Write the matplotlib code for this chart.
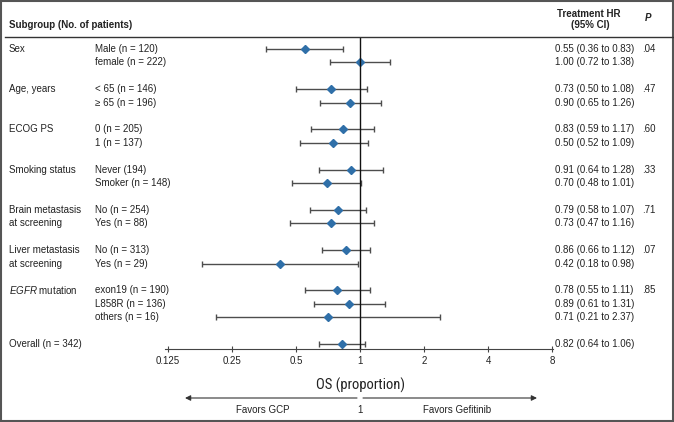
import matplotlib

matplotlib.use("Agg")
import matplotlib.pyplot as plt
import matplotlib.transforms as mtransforms
from matplotlib import font_manager
import numpy as np

plt.rcParams["font.family"] = ["Liberation Sans", "DejaVu Sans"]
plt.rcParams["mathtext.fontset"] = "custom"
plt.rcParams["mathtext.it"] = "Liberation Sans:italic"
plt.rcParams["mathtext.rm"] = "Liberation Sans"

# ---- data ----
groups = [
    "Sex",
    "Age, years",
    "ECOG PS",
    "Smoking status",
    "Brain metastasis\nat screening",
    "Liver metastasis\nat screening",
    r"$\mathit{EGFR}$ mutation",
    "Overall (n = 342)",
]
subgroups = [
    ["Male (n = 120)", "female (n = 222)"],
    ["< 65 (n = 146)", "\u2265 65 (n = 196)"],
    ["0 (n = 205)", "1 (n = 137)"],
    ["Never (194)", "Smoker (n = 148)"],
    ["No (n = 254)", "Yes (n = 88)"],
    ["No (n = 313)", "Yes (n = 29)"],
    ["exon19 (n = 190)", "L858R (n = 136)", "others (n = 16)"],
    [""],
]
hr = [0.55, 1.00, 0.73, 0.90, 0.83, 0.75, 0.91, 0.70, 0.79, 0.73,
      0.86, 0.42, 0.78, 0.89, 0.71, 0.82]
ci_low = [0.36, 0.72, 0.50, 0.65, 0.59, 0.52, 0.64, 0.48, 0.58, 0.47,
          0.66, 0.18, 0.55, 0.61, 0.21, 0.64]
ci_high = [0.83, 1.38, 1.08, 1.26, 1.17, 1.09, 1.28, 1.01, 1.07, 1.16,
           1.12, 0.98, 1.11, 1.31, 2.37, 1.06]
hr_text = [
    "0.55 (0.36 to 0.83)", "1.00 (0.72 to 1.38)",
    "0.73 (0.50 to 1.08)", "0.90 (0.65 to 1.26)",
    "0.83 (0.59 to 1.17)", "0.50 (0.52 to 1.09)",
    "0.91 (0.64 to 1.28)", "0.70 (0.48 to 1.01)",
    "0.79 (0.58 to 1.07)", "0.73 (0.47 to 1.16)",
    "0.86 (0.66 to 1.12)", "0.42 (0.18 to 0.98)",
    "0.78 (0.55 to 1.11)", "0.89 (0.61 to 1.31)", "0.71 (0.21 to 2.37)",
    "0.82 (0.64 to 1.06)",
]
p_values = [".04", ".47", ".60", ".33", ".71", ".07", ".85", ""]
ticks = [0.125, 0.25, 0.5, 1, 2, 4, 8]
tick_labels = ["0.125", "0.25", "0.5", "1", "2", "4", "8"]

# ---- layout ----
W, H = 674, 422
TEXT = "#222222"
GRAY = "#4d4d4d"
BLUE = "#2f6fa8"


def fx(px):
    return px / W


def fy(py):
    return 1 - py / H


# condensed face for the axis title if one is around, else plain at a smaller size
installed = {f.name for f in font_manager.fontManager.ttflist}
label_font, label_size = "Liberation Sans", 9.2
for name in ["Roboto Condensed", "DejaVu Sans Condensed", "Liberation Sans Narrow",
             "Open Sans Condensed"]:
    if name in installed:
        label_font, label_size = name, 10.5
        break

fig = plt.figure(figsize=(W / 100, H / 100), dpi=100)
ax = fig.add_axes([fx(165), fy(349), fx(553) - fx(165), fy(37) - fy(349)])
ax.set_xscale("log", base=2)
ax.set_xlim(2 ** (-3 - 3 / 64), 2 ** (3 + 1 / 64))
ax.set_ylim(22.37, -0.895)

# row positions
rows = []
group_rows = []
r = 0
for subs in subgroups:
    group_rows.append(r)
    rows.extend(range(r, r + len(subs)))
    r += len(subs) + 1
rows = np.array(rows, dtype=float)
hr_a = np.array(hr)
err = [hr_a - np.array(ci_low), np.array(ci_high) - hr_a]

ax.errorbar(hr_a, rows, xerr=err, fmt="none", ecolor=GRAY, elinewidth=1,
            capsize=2, capthick=1)
ax.plot(hr_a, rows, "D", color=BLUE, ms=3.6, mec=BLUE)
ax.axvline(1, color="#111111", lw=1)

for side in ["left", "right", "top"]:
    ax.spines[side].set_visible(False)
ax.spines["bottom"].set_color("#444444")
ax.set_yticks([])
ax.set_xticks(ticks, tick_labels)
ax.minorticks_off()
ax.tick_params(axis="x", direction="inout", length=4, width=0.8,
               color="#444444", labelsize=7, labelcolor=TEXT, pad=3)

# text columns
tr = mtransforms.blended_transform_factory(fig.transFigure, ax.transData)
kw = dict(transform=tr, fontsize=7, color=TEXT, va="center", clip_on=False)
i = 0
for g, subs, gr, p in zip(groups, subgroups, group_rows, p_values):
    for k, line in enumerate(g.split("\n")):
        ax.text(fx(9), gr + k, line, **kw)
    for k, s in enumerate(subs):
        ax.text(fx(95), gr + k, s, **kw)
        ax.text(fx(555), gr + k, hr_text[i], **kw)
        i += 1
    ax.text(fx(642), gr, p, **kw)

# header
fig.text(fx(9), fy(25), "Subgroup (No. of patients)", fontsize=7,
         fontweight="bold", color=TEXT, va="center")
fig.text(fx(589), fy(14), "Treatment HR", fontsize=7, fontweight="bold",
         color=TEXT, va="center", ha="center")
fig.text(fx(590), fy(25), "(95% CI)", fontsize=7, fontweight="bold",
         color=TEXT, va="center", ha="center")
fig.text(fx(648), fy(18), "P", fontsize=7, fontweight="bold", style="italic",
         color=TEXT, va="center", ha="center")
fig.add_artist(plt.Line2D([fx(5), fx(673)], [fy(37), fy(37)],
                          transform=fig.transFigure, color="#333333", lw=1))

# axis label and direction arrows
fig.text(fx(360), fy(385), "OS (proportion)", fontsize=label_size,
         family=[label_font, "DejaVu Sans"], color=TEXT,
         va="center", ha="center")
arrow = dict(arrowstyle="-|>", color="#333333", lw=0.8, mutation_scale=8,
             shrinkA=0, shrinkB=0)
fig.add_artist(plt.Annotation("", xy=(fx(185), fy(398)), xytext=(fx(357), fy(398)),
                              xycoords="figure fraction", arrowprops=arrow))
fig.add_artist(plt.Annotation("", xy=(fx(537), fy(398)), xytext=(fx(363), fy(398)),
                              xycoords="figure fraction", arrowprops=arrow))
fig.text(fx(263), fy(410), "Favors GCP", fontsize=7, color=TEXT,
         va="center", ha="center")
fig.text(fx(360), fy(410), "1", fontsize=7, color=TEXT, va="center", ha="center")
fig.text(fx(457), fy(410), "Favors Gefitinib", fontsize=7, color=TEXT,
         va="center", ha="center")

# outer frame
fig.add_artist(plt.Rectangle((0.0015, 0.002), 0.997, 0.996, fill=False,
                             edgecolor="#555555", lw=1.5,
                             transform=fig.transFigure))

fig.savefig("out.png", dpi=100)
